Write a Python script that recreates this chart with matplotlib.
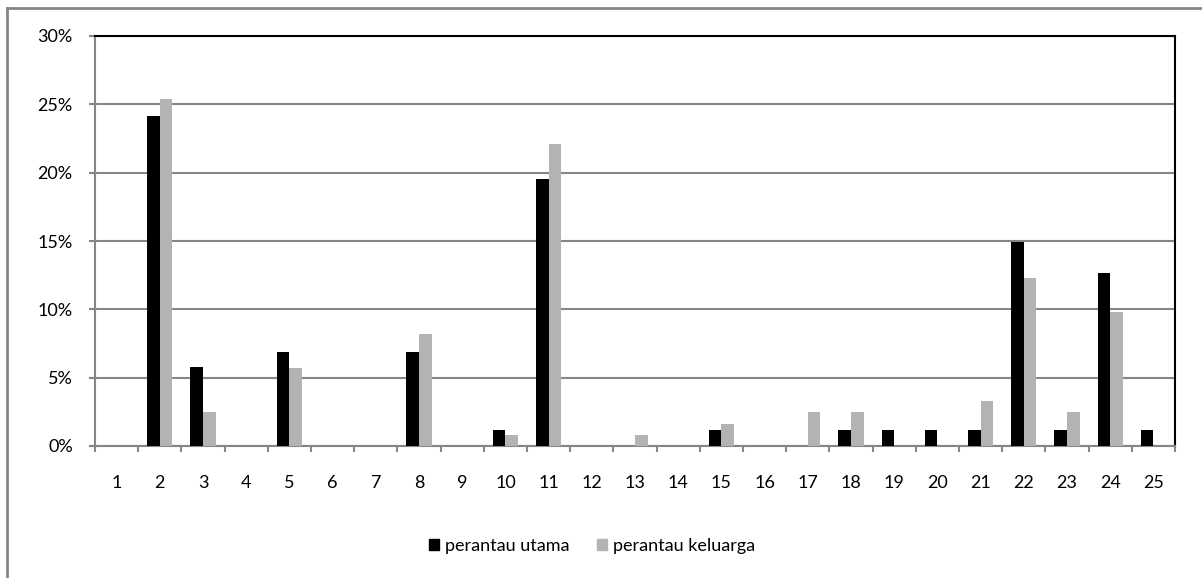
import matplotlib
matplotlib.use("Agg")
import matplotlib.pyplot as plt
from matplotlib.lines import Line2D
from matplotlib.patches import Patch
import numpy as np

categories = [str(i) for i in range(1, 26)]
utama = [0, 24.14, 5.75, 0, 6.90, 0, 0, 6.90, 0, 1.15, 19.54, 0, 0, 0, 1.15,
         0, 0, 1.15, 1.15, 1.15, 1.15, 14.94, 1.15, 12.64, 1.15]
keluarga = [0, 25.41, 2.46, 0, 5.74, 0, 0, 8.20, 0, 0.82, 22.13, 0, 0.82, 0, 1.64,
            0, 2.46, 2.46, 0, 0, 3.28, 12.30, 2.46, 9.84, 0]
yticks = [0, 5, 10, 15, 20, 25, 30]
series_names = ["perantau utama", "perantau keluarga"]

plt.rcParams['font.family'] = ['Lato', 'DejaVu Sans']
W, H = 1202, 578
fig = plt.figure(figsize=(W/100, H/100), dpi=100)
ax = fig.add_axes([95/W, 1-446/H, (1175-95)/W, (446-36)/H])

x = np.arange(len(categories))
bw = 0.29
ax.bar(x - bw/2, utama, bw, color='black', zorder=3)
ax.bar(x + bw/2, keluarga, bw, color='#b3b3b3', zorder=3)

ax.set_xlim(-0.5, len(categories) - 0.5)
ax.set_ylim(0, 30)
ax.set_yticks(yticks)
ax.set_yticklabels([f"{v}%" for v in yticks], fontsize=13)
ax.yaxis.grid(True, color='#868686', linewidth=1.5, zorder=0)
ax.set_xticks(x)
ax.set_xticklabels(categories, fontsize=13)
ax.set_xticks(np.arange(-0.5, len(categories)), minor=True)
ax.tick_params(axis='x', which='major', length=0, pad=21)
ax.tick_params(axis='x', which='minor', length=4, color='#868686', width=1.5, direction='out')
ax.tick_params(axis='y', length=4, color='#868686', width=1.5, pad=12)

for s in ['left', 'bottom']:
    ax.spines[s].set_color('#868686')
    ax.spines[s].set_linewidth(1.5)
for s in ['top', 'right']:
    ax.spines[s].set_color('black')
    ax.spines[s].set_linewidth(1.5)

handles = [Patch(color='black'), Patch(color='#b3b3b3')]
fig.legend(handles, series_names, loc='center', bbox_to_anchor=(592/W, 1-546/H),
           ncol=2, frameon=False, fontsize=13, handlelength=0.55, handleheight=0.55,
           handletextpad=0.35, columnspacing=1.5)

fig.add_artist(Line2D([7/W, 7/W], [0, 1-8/H], color='#868686', linewidth=2, transform=fig.transFigure))
fig.add_artist(Line2D([7/W, 1], [1-8/H, 1-8/H], color='#868686', linewidth=2, transform=fig.transFigure))

fig.savefig('out.png', dpi=100)
